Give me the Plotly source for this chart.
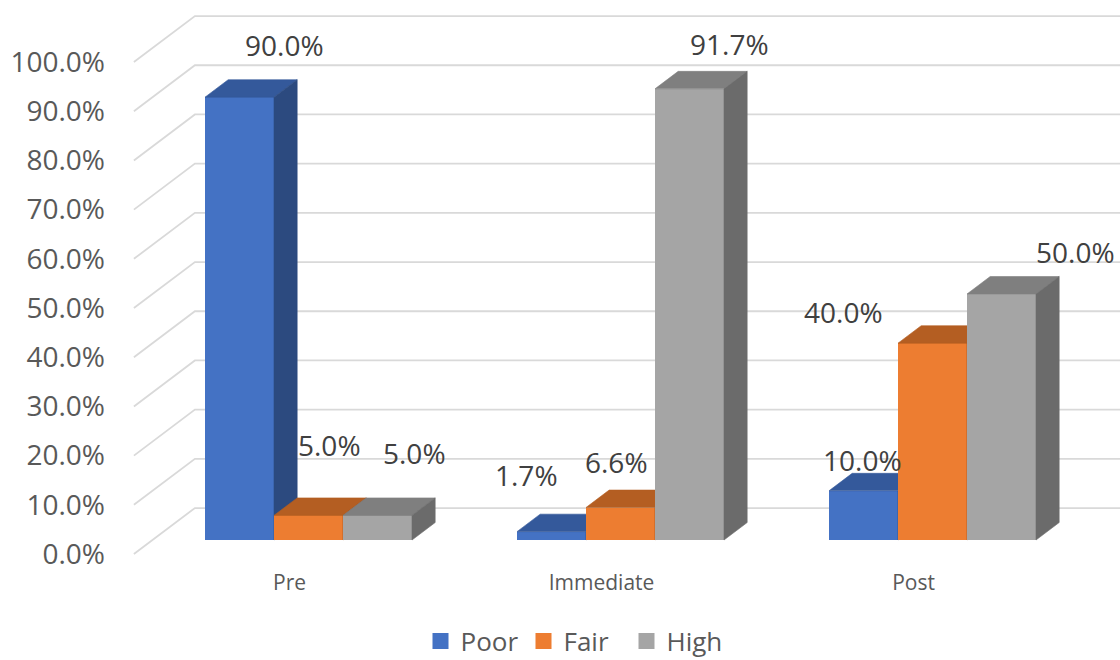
import plotly.graph_objects as go

# ---------------- data ----------------
categories = ["Pre", "Immediate", "Post"]
series_names = ["Poor", "Fair", "High"]
poor = [90.0, 1.7, 10.0]
fair = [5.0, 6.6, 40.0]
high = [5.0, 91.7, 50.0]
y_ticks = [0, 10, 20, 30, 40, 50, 60, 70, 80, 90, 100]
y_tick_labels = [f"{t:.1f}%" for t in y_ticks]

series_values = [poor, fair, high]

# ---------------- style ----------------
front_colors = ["#4472C4", "#ED7D31", "#A5A5A5"]
top_colors = ["#34599B", "#B45E22", "#7F7F7F"]
side_colors = ["#2C4A7F", "#9A5020", "#6B6B6B"]
label_dx = [[44.5, -25, -1.5], [20.5, -4, -89.0], [37, 39.5, 73.5]]
label_dy = [[52, 57, 30.5], [70, 45.5, 31], [62.5, 45, 42]]
FONT = "Open Sans"
TXT = "#595959"
LBL = "#404040"

# pixel geometry of the pseudo-3D frame
PX_PER_CAT = 312.0
PX_PER_PCT = 4.92
FLOOR_DX, FLOOR_DY = 61.0, 46.0      # px depth vector of the floor
D_BAR0, D_BAR1 = 0.305, 0.685        # bar depth fraction (front, back)
BAR_W = 69.0 / PX_PER_CAT            # bar width in category units

W, H = 1120, 660
ML, MR, MT, MB = 120, 0, 0, 100
cat0_px = 308.5
zero_px = 540.0
x_range = [(ML - cat0_px) / PX_PER_CAT, (W - MR - cat0_px) / PX_PER_CAT]
y_range = [(zero_px - (H - MB)) / PX_PER_PCT, (zero_px - MT) / PX_PER_PCT]


def depth_offset(d):
    """offset (data units) of depth fraction d relative to the bar front plane"""
    rel = d - D_BAR0
    return rel * FLOOR_DX / PX_PER_CAT, rel * FLOOR_DY / PX_PER_PCT


fx, fy = depth_offset(0.0)
bx, by = depth_offset(1.0)
ddx, ddy = depth_offset(D_BAR1)

fig = go.Figure()

# gridlines: diagonal on the left wall floor edge, then along the back wall
gx, gy = [], []
left_edge = -0.5
right_edge = len(categories) - 0.5
for t in y_ticks:
    gx += [left_edge + fx, left_edge + bx, right_edge + bx, None]
    gy += [t + fy, t + by, t + by, None]
fig.add_trace(go.Scatter(x=gx, y=gy, mode="lines",
                         line=dict(color="#D9D9D9", width=1.8),
                         hoverinfo="skip", showlegend=False))

# legend entries
for i, name in enumerate(series_names):
    fig.add_trace(go.Scatter(x=[None], y=[None], mode="markers", name=name,
                             marker=dict(symbol="square", size=16, color=front_colors[i])))

# bars, one overlaid subplot per series so later series occlude earlier ones
for i, vals in enumerate(series_values):
    ax = str(i + 2)
    xs = [k + (i - 1) * BAR_W for k in range(len(categories))]
    fig.add_trace(go.Bar(x=xs, y=vals, width=BAR_W, name=series_names[i],
                         marker=dict(color=front_colors[i], line=dict(width=0)),
                         showlegend=False, xaxis="x" + ax, yaxis="y" + ax,
                         hoverinfo="skip"))
    for xc, v in zip(xs, vals):
        xl, xr = xc - BAR_W / 2, xc + BAR_W / 2
        # top face
        fig.add_trace(go.Scatter(
            x=[xl, xr, xr + ddx, xl + ddx, xl], y=[v, v, v + ddy, v + ddy, v],
            fill="toself", fillcolor=top_colors[i], mode="lines",
            line=dict(width=0.6, color=top_colors[i]), showlegend=False,
            hoverinfo="skip", xaxis="x" + ax, yaxis="y" + ax))
        # side face
        fig.add_trace(go.Scatter(
            x=[xr, xr, xr + ddx, xr + ddx, xr], y=[0, v, v + ddy, ddy, 0],
            fill="toself", fillcolor=side_colors[i], mode="lines",
            line=dict(width=0.6, color=side_colors[i]), showlegend=False,
            hoverinfo="skip", xaxis="x" + ax, yaxis="y" + ax))

# data labels
annotations = []
for i, vals in enumerate(series_values):
    for k, v in enumerate(vals):
        annotations.append(dict(
            x=k + (i - 1) * BAR_W, y=v, xref="x", yref="y",
            text=f"{v:.1f}%", showarrow=False,
            xshift=label_dx[i][k], yshift=label_dy[i][k],
            font=dict(family=FONT, size=28, color=LBL)))

hidden = dict(visible=False, showgrid=False, zeroline=False, fixedrange=True)
layout = dict(
    width=W, height=H,
    margin=dict(l=ML, r=MR, t=MT, b=MB, pad=0, autoexpand=False),
    paper_bgcolor="white", plot_bgcolor="white",
    font=dict(family=FONT, color=TXT),
    barmode="overlay", bargap=0,
    hovermode=False,
    xaxis=dict(range=x_range, tickvals=list(range(len(categories))), ticktext=categories,
               showgrid=False, zeroline=False, showline=False, ticks="",
               ticklabelshift=-19, ticklabelstandoff=8,
               tickfont=dict(family=FONT, size=21, color=TXT), fixedrange=True),
    yaxis=dict(range=y_range, tickvals=y_ticks, ticktext=y_tick_labels,
               showgrid=False, zeroline=False, showline=False, ticks="",
               ticklabelshift=14, ticklabelstandoff=14,
               tickfont=dict(family=FONT, size=28, color=TXT), fixedrange=True),
    legend=dict(orientation="h", x=0.455, xanchor="center",
                y=(H - 641) / H, yref="container", yanchor="middle",
                entrywidth=58, entrywidthmode="pixels",
                font=dict(family=FONT, size=26, color=TXT), itemsizing="trace",
                bgcolor="rgba(0,0,0,0)"),
    annotations=annotations,
    showlegend=True,
)
for i in range(len(series_values)):
    ax = str(i + 2)
    layout["xaxis" + ax] = dict(range=x_range, overlaying="x", **hidden)
    layout["yaxis" + ax] = dict(range=y_range, overlaying="y", **hidden)

fig.update_layout(**layout)
fig.write_html("out.html")
